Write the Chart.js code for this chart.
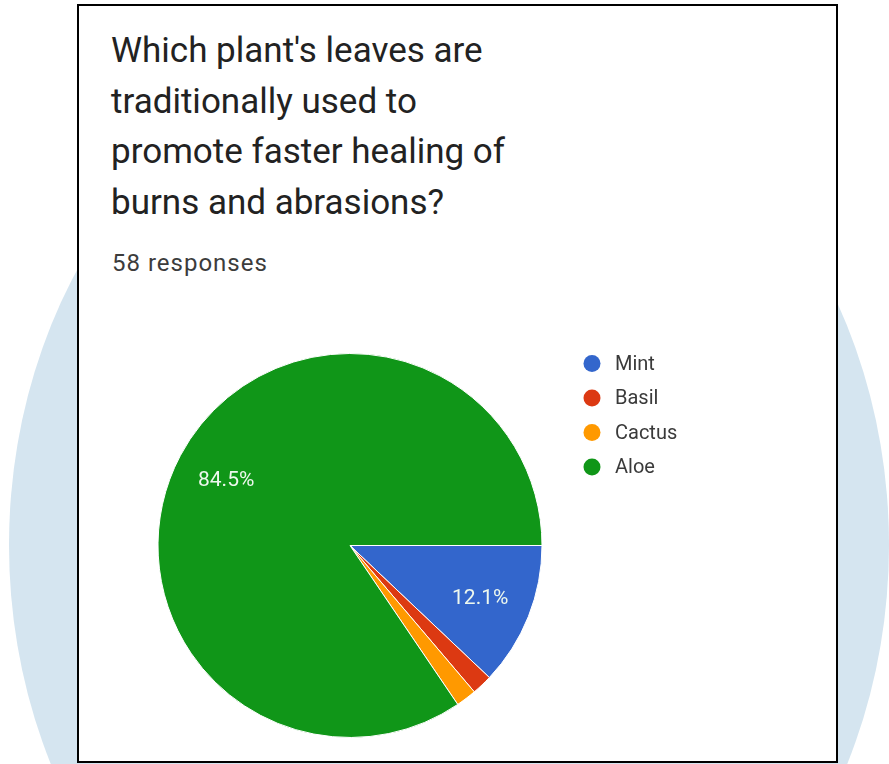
<!DOCTYPE html>
<html>
<head>
<meta charset="utf-8">
<script src="https://cdn.jsdelivr.net/npm/chart.js@4/dist/chart.umd.min.js"></script>
<style>
  html, body { margin: 0; padding: 0; background: #fff; }
  body { position: relative; width: 889px; height: 764px; overflow: hidden; font-family: Roboto, Arial, sans-serif; }
  #blob { position: absolute; left: 9px; top: 30px; width: 880px; height: 1030px; border-radius: 50%; background: #d5e5f0; }
  #card { position: absolute; left: 77px; top: 4px; width: 757px; height: 755px; border: 2px solid #000; background: #fff; }
  #title { position: absolute; left: 32px; top: 20px; margin: 0; font-size: 35px; line-height: 50.5px; font-weight: 400; color: #222; }
  #count { position: absolute; left: 33px; top: 242px; margin: 0; font-size: 24px; line-height: 30px; letter-spacing: 1px; color: #3c3c3c; }
  #wrap { position: absolute; left: 140px; top: 340px; width: 600px; height: 420px; }
</style>
</head>
<body>
<div id="blob"></div>
<div id="card">
  <p id="title">Which plant's leaves are<br>traditionally used to<br>promote faster healing of<br>burns and abrasions?</p>
  <p id="count">58 responses</p>
</div>
<div id="wrap"><canvas id="pie-chart" width="600" height="420"></canvas></div>

<script>
// answers and how many picked each
var categories = ["Mint", "Basil", "Cactus", "Aloe"];
var responses = [7, 1, 1, 49];

var sliceColors = ["#3366cc", "#dc3912", "#ff9900", "#109618"];

// percentage text inside the big slices
var sliceLabels = {
    id: "sliceLabels",
    afterDatasetsDraw: function (chart) {
        var ctx = chart.ctx;
        var values = chart.data.datasets[0].data;
        var total = values.reduce(function (a, b) { return a + b; }, 0);
        ctx.save();
        ctx.font = "21px Roboto, Arial, sans-serif";
        ctx.fillStyle = "#eef8ee";
        ctx.textAlign = "center";
        ctx.textBaseline = "middle";
        chart.getDatasetMeta(0).data.forEach(function (arc, i) {
            var share = values[i] / total;
            if (share < 0.05) return;
            var p = arc.getProps(["startAngle", "endAngle", "x", "y", "outerRadius"], true);
            var mid = (p.startAngle + p.endAngle) / 2;
            var r = p.outerRadius * 0.73;
            ctx.fillText((share * 100).toFixed(1) + "%", p.x + Math.cos(mid) * r, p.y + Math.sin(mid) * r + 1);
        });
        ctx.restore();
    }
};

// legend column to the right of the pie
var sideLegend = {
    id: "sideLegend",
    afterDraw: function (chart) {
        var ctx = chart.ctx;
        var ds = chart.data.datasets[0];
        ctx.save();
        ctx.font = "20px Roboto, Arial, sans-serif";
        ctx.textBaseline = "middle";
        chart.data.labels.forEach(function (label, i) {
            var y = 23.5 + i * 34.5;
            ctx.beginPath();
            ctx.arc(452, y, 8.5, 0, Math.PI * 2);
            ctx.fillStyle = ds.backgroundColor[i];
            ctx.fill();
            ctx.fillStyle = "#3a3a3a";
            ctx.fillText(label, 475, y + 1);
        });
        ctx.restore();
    }
};

var ctx = document.getElementById("pie-chart");
var pieChart = new Chart(ctx, {
    type: "pie",
    data: {
        labels: categories,
        datasets: [{
            data: responses,
            backgroundColor: sliceColors,
            borderColor: "#ffffff",
            borderWidth: 1
        }]
    },
    options: {
        responsive: false,
        animation: false,
        rotation: 90,
        events: [],
        layout: { padding: { left: 17.5, right: 197.5, top: 13, bottom: 22 } },
        plugins: {
            legend: { display: false },
            tooltip: { enabled: false }
        }
    },
    plugins: [sliceLabels, sideLegend]
});
</script>
</body>
</html>
